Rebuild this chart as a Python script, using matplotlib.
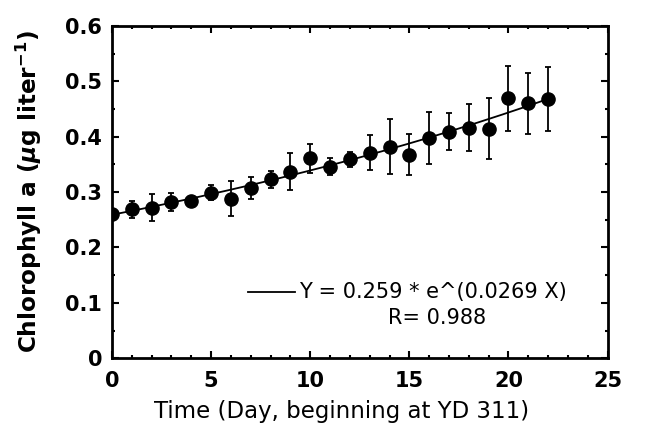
import numpy as np
import matplotlib
matplotlib.use("Agg")
import matplotlib.pyplot as plt
from matplotlib.ticker import MultipleLocator

plt.rcParams['font.family'] = ['DejaVu Sans']
plt.rcParams['mathtext.fontset'] = 'custom'
plt.rcParams['mathtext.rm'] = 'DejaVu Sans:bold'
plt.rcParams['mathtext.it'] = 'DejaVu Sans:italic:bold'

# Data
days = [0, 1, 2, 3, 4, 5, 6, 7, 8, 9, 10, 11, 12, 13, 14, 15, 16, 17, 18, 19, 20, 21, 22]
chl = [0.260, 0.269, 0.272, 0.282, 0.283, 0.299, 0.288, 0.308, 0.323, 0.337, 0.361,
       0.346, 0.359, 0.371, 0.382, 0.367, 0.397, 0.409, 0.416, 0.414, 0.469, 0.460, 0.468]
err = [0.004, 0.015, 0.025, 0.017, 0.004, 0.013, 0.032, 0.020, 0.015, 0.033, 0.026,
       0.016, 0.013, 0.032, 0.049, 0.037, 0.047, 0.033, 0.042, 0.055, 0.059, 0.055, 0.057]
fit_a = 0.259
fit_b = 0.0269
fit_label = "Y = 0.259 * e^(0.0269 X)"
r_label = "R= 0.988"
ytick_vals = [0, 0.1, 0.2, 0.3, 0.4, 0.5, 0.6]
ytick_labels = ['0', '0.1', '0.2', '0.3', '0.4', '0.5', '0.6']

fig = plt.figure(figsize=(6.59, 4.23), dpi=100)
ax = fig.add_axes([0.170, 0.153, 0.752, 0.786])

xf = np.linspace(0, 22, 200)
ax.plot(xf, fit_a * np.exp(fit_b * xf), color='black', lw=1.3, zorder=2)
ax.errorbar(days, chl, yerr=err, fmt='o', color='black', ms=9.5, ecolor='black',
            elinewidth=1.3, capsize=2.5, capthick=1.3, zorder=3)

ax.set_xlim(0, 25)
ax.set_ylim(0, 0.6)
ax.xaxis.set_major_locator(MultipleLocator(5))
ax.xaxis.set_minor_locator(MultipleLocator(1))
ax.yaxis.set_minor_locator(MultipleLocator(0.05))
ax.set_yticks(ytick_vals)
ax.set_yticklabels(ytick_labels)

ax.tick_params(which='both', direction='in', top=True, right=True, width=1.5)
ax.tick_params(which='major', length=5)
ax.tick_params(which='minor', length=2.5)
ax.tick_params(axis='x', pad=9)
ax.tick_params(axis='y', pad=7)
for lab in ax.get_xticklabels() + ax.get_yticklabels():
    lab.set_fontsize(15)
    lab.set_fontweight('bold')
for s in ax.spines.values():
    s.set_linewidth(2)

ax.set_ylabel(r"Chlorophyll a ($\mu$g liter$^{\mathregular{-1}}$)", fontsize=16.7,
              fontweight='bold', labelpad=15)
fig.text(342 / 659, 1 - 411 / 423, "Time (Day, beginning at YD 311)", fontsize=16.5,
         ha='center', va='center')

# legend-like annotation
ax.plot([6.85, 9.22], [0.12, 0.12], color='black', lw=1.3)
ax.text(9.45, 0.12, fit_label, fontsize=15, ha='left', va='center')
ax.text(16.4, 0.073, r_label, fontsize=15, ha='center', va='center')

fig.savefig("out.png", dpi=100)
